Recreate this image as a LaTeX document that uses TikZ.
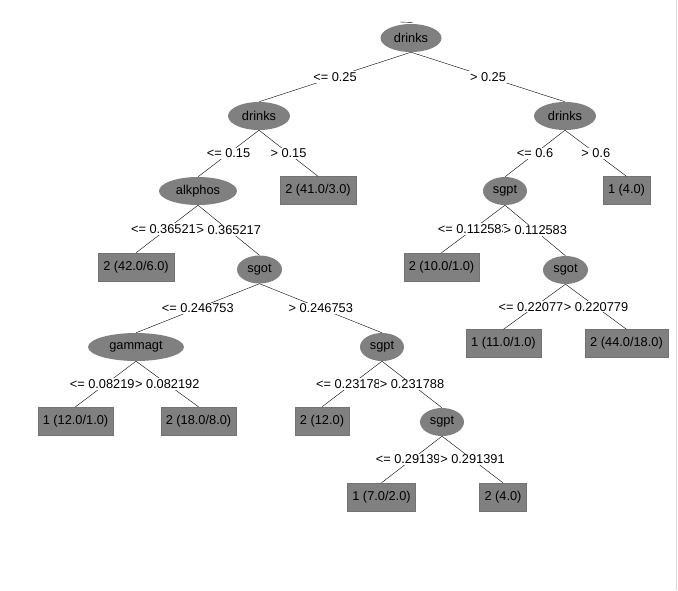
\documentclass[tikz,border=0pt]{standalone}
\usepackage{fontspec}
\setmainfont{Liberation Sans}
\usetikzlibrary{shapes.geometric}
\definecolor{nodeGray}{HTML}{808080}
\definecolor{frameGray}{HTML}{D8D8D8}

\begin{document}
\begin{tikzpicture}[x=1pt, y=-1pt,
    every node/.style={font=\fontsize{12.8}{15}\selectfont},
    split/.style={ellipse, fill=nodeGray, inner sep=0pt, minimum height=28pt},
    leaf/.style={rectangle, fill=nodeGray, draw=black!55, inner xsep=5pt, inner ysep=0pt, minimum height=28pt},
    edgelab/.style={fill=white, inner sep=1pt}]
    \useasboundingbox (0,0) rectangle (678,590);
    \draw[frameGray] (676,0) -- (676,590);
    % split nodes
    \node[split, minimum width=61pt] (drinksRoot) at (411,38) {drinks};
    \node[split, minimum width=62pt] (drinksL) at (259,116) {drinks};
    \node[split, minimum width=62pt] (drinksR) at (565,116) {drinks};
    \node[split, minimum width=78pt] (alkphos) at (198,191) {alkphos};
    \node[split, minimum width=45pt] (sgotL) at (259.5,269.5) {sgot};
    \node[split, minimum width=96pt] (gammagt) at (136,347) {gammagt};
    \node[split, minimum width=44pt] (sgptA) at (382,347) {sgpt};
    \node[split, minimum width=44pt] (sgptB) at (442,422) {sgpt};
    \node[split, minimum width=44pt] (sgptR) at (505,191) {sgpt};
    \node[split, minimum width=45pt] (sgotR) at (565.5,270) {sgot};
    % leaves
    \node[leaf] (leafA) at (318,190.5) {2 (41.0/3.0)};
    \node[leaf] (leafB) at (136,267) {2 (42.0/6.0)};
    \node[leaf] (leafC) at (75.5,421) {1 (12.0/1.0)};
    \node[leaf] (leafD) at (198.5,421) {2 (18.0/8.0)};
    \node[leaf] (leafE) at (322,421) {2 (12.0)};
    \node[leaf] (leafF) at (381.5,497) {1 (7.0/2.0)};
    \node[leaf] (leafG) at (503,497) {2 (4.0)};
    \node[leaf] (leafH) at (626.5,190.5) {1 (4.0)};
    \node[leaf] (leafI) at (441.5,267) {2 (10.0/1.0)};
    \node[leaf] (leafJ) at (503.5,343.5) {1 (11.0/1.0)};
    \node[leaf] (leafK) at (626.5,343.5) {2 (44.0/18.0)};
    % branches
    \draw (400,22) -- (413,22.5);
    \draw (drinksRoot.south) -- node[edgelab] {<= 0.25} (drinksL.north);
    \draw (drinksRoot.south) -- node[edgelab] {> 0.25} (drinksR.north);
    \draw (drinksL.south) -- node[edgelab] {<= 0.15} (alkphos.north);
    \draw (drinksL.south) -- node[edgelab] {> 0.15} (leafA.north);
    \draw (alkphos.south) -- node[edgelab] {<= 0.365217} (leafB.north);
    \draw (alkphos.south) -- node[edgelab] {> 0.365217} (sgotL.north);
    \draw (sgotL.south) -- node[edgelab] {<= 0.246753} (gammagt.north);
    \draw (sgotL.south) -- node[edgelab] {> 0.246753} (sgptA.north);
    \draw (gammagt.south) -- node[edgelab] {<= 0.082192} (leafC.north);
    \draw (gammagt.south) -- node[edgelab] {> 0.082192} (leafD.north);
    \draw (sgptA.south) -- node[edgelab] {<= 0.231788} (leafE.north);
    \draw (sgptA.south) -- node[edgelab] {> 0.231788} (sgptB.north);
    \draw (sgptB.south) -- node[edgelab] {<= 0.291391} (leafF.north);
    \draw (sgptB.south) -- node[edgelab] {> 0.291391} (leafG.north);
    \draw (drinksR.south) -- node[edgelab] {<= 0.6} (sgptR.north);
    \draw (drinksR.south) -- node[edgelab] {> 0.6} (leafH.north);
    \draw (sgptR.south) -- node[edgelab] {<= 0.112583} (leafI.north);
    \draw (sgptR.south) -- node[edgelab] {> 0.112583} (sgotR.north);
    \draw (sgotR.south) -- node[edgelab] {<= 0.220779} (leafJ.north);
    \draw (sgotR.south) -- node[edgelab] {> 0.220779} (leafK.north);
\end{tikzpicture}
\end{document}
